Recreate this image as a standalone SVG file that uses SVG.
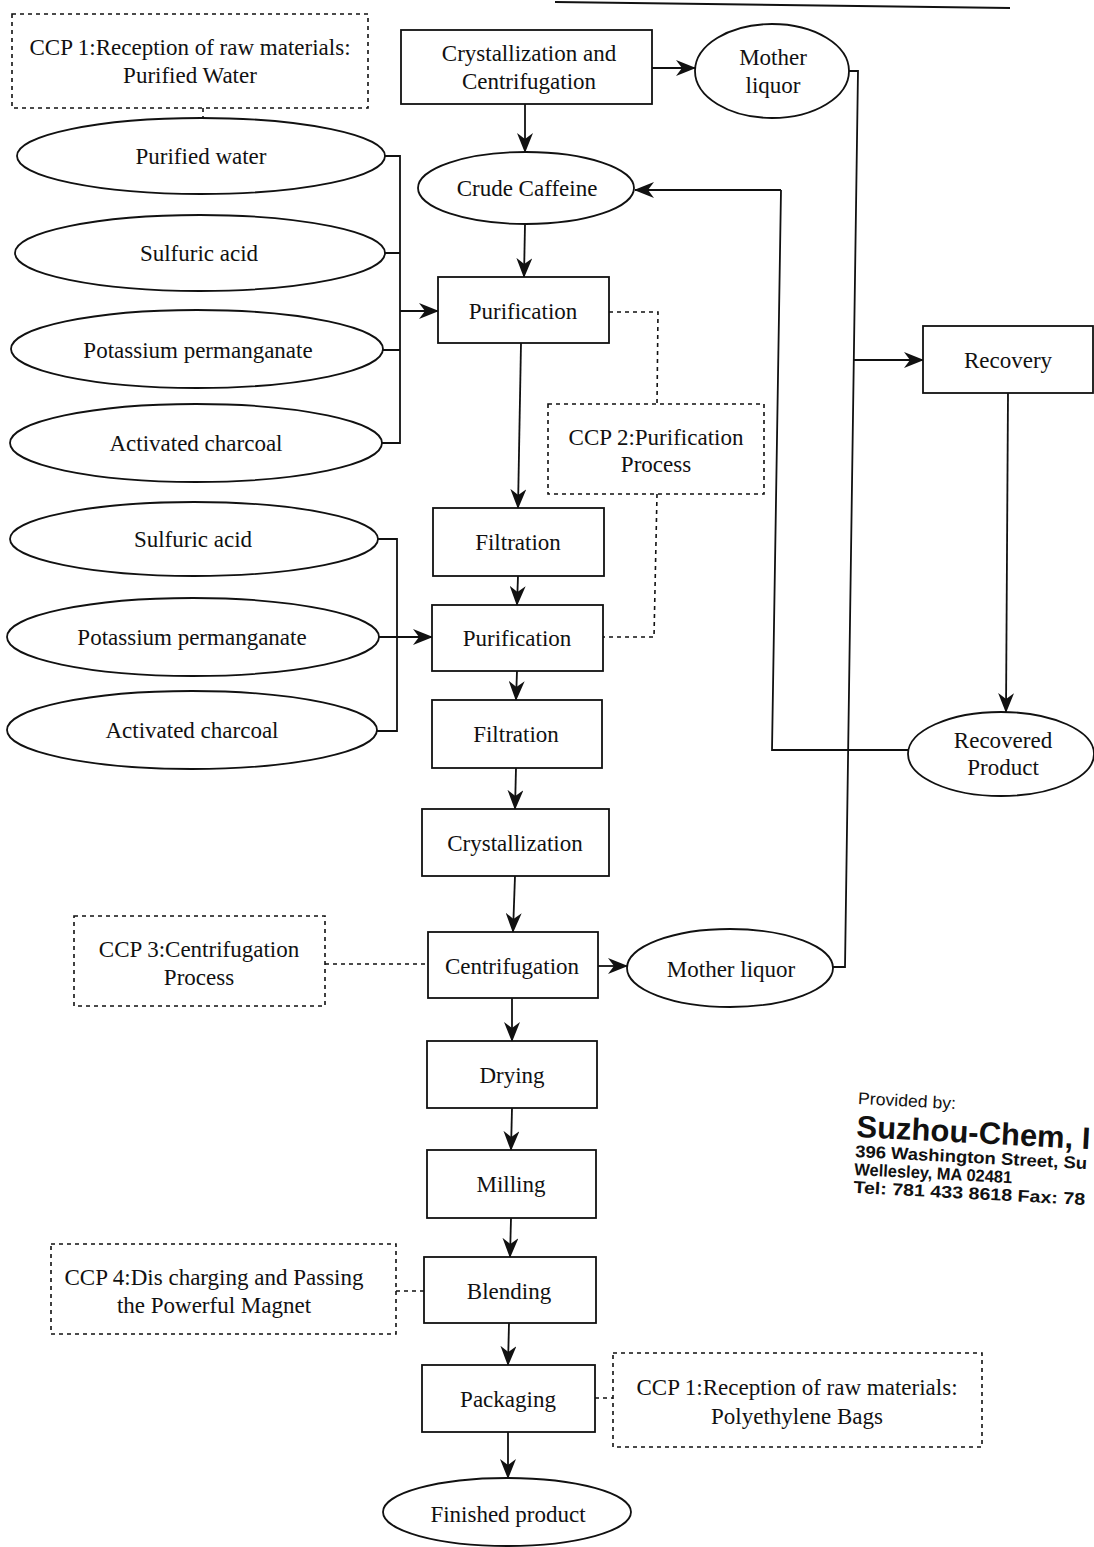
<svg xmlns="http://www.w3.org/2000/svg" width="1094" height="1547" viewBox="0 0 1094 1547">
<style>
  .bg{fill:#fff}
  .box{fill:#fff;stroke:#111;stroke-width:1.8}
  .ccp{fill:none;stroke:#111;stroke-width:1.6;stroke-dasharray:4 4}
  .t{font-family:"Liberation Serif","Times New Roman",serif;font-size:23px;fill:#111;text-anchor:middle}
  .ln{fill:none;stroke:#111;stroke-width:1.8}
  .arr{fill:none;stroke:#111;stroke-width:1.8;marker-end:url(#ah)}
  .dash{fill:none;stroke:#111;stroke-width:1.6;stroke-dasharray:4 4}
  .sans{font-family:"Liberation Sans",Arial,sans-serif;fill:#111}
</style>
<defs>
  <marker id="ah" viewBox="0 0 20 16" refX="19" refY="8" markerWidth="20" markerHeight="16" markerUnits="userSpaceOnUse" orient="auto">
    <path d="M0,0 L20,8 L0,16 L6,8 Z" fill="#111"/>
  </marker>
</defs>
<rect class="bg" x="0" y="0" width="1094" height="1547"/>
<path class="ln" d="M555,2 L1010,8" stroke-width="2.2"/>

<g id="connectors">
  <path class="dash" d="M203,108 L203,118"/>
  <path class="ln" d="M385,156 L400,156 L400,443 L382,443 M385,253 L400,253 M383,350 L400,350"/>
  <path class="arr" d="M400,311 L438,311"/>
  <path class="ln" d="M378,539 L397,539 L397,731 L377,731"/>
  <path class="arr" d="M378,637 L432,637"/>
  <path class="arr" d="M525,104 L525,152"/>
  <path class="arr" d="M652,68 L695,68"/>
  <path class="arr" d="M525,224 L524,277"/>
  <path class="arr" d="M521,343 L518,508"/>
  <path class="arr" d="M518,576 L517,605"/>
  <path class="arr" d="M517,671 L516,700"/>
  <path class="arr" d="M516,768 L515,809"/>
  <path class="arr" d="M515,876 L513,932"/>
  <path class="arr" d="M598,966 L627,966"/>
  <path class="arr" d="M512,998 L512,1041"/>
  <path class="arr" d="M512,1108 L511,1150"/>
  <path class="arr" d="M511,1218 L510,1257"/>
  <path class="arr" d="M509,1323 L508,1365"/>
  <path class="arr" d="M508,1432 L508,1478"/>
  <path class="ln" d="M849,71 L858,71 L845,967 L833,967"/>
  <path class="arr" d="M854,360 L923,360"/>
  <path class="arr" d="M1008,393 L1006,712"/>
  <path class="ln" d="M908,750 L772,750 L781,190"/>
  <path class="arr" d="M781,190 L635,190"/>
  <path class="dash" d="M609,312 L658,312 L657,404"/>
  <path class="dash" d="M657,494 L654,637 L603,637"/>
  <path class="dash" d="M325,964 L428,964"/>
  <path class="dash" d="M396,1291 L424,1291"/>
  <path class="dash" d="M595,1398 L613,1398"/>
</g>

<g id="ccp1-water">
  <rect class="ccp" x="12" y="14" width="356" height="94"/>
  <text class="t" x="190" y="55">CCP 1:Reception of raw materials:</text>
  <text class="t" x="190" y="83">Purified Water</text>
</g>
<g id="cryst-centri">
  <rect class="box" x="401" y="30" width="251" height="74"/>
  <text class="t" x="529" y="61">Crystallization and</text>
  <text class="t" x="529" y="89">Centrifugation</text>
</g>
<g id="mother-liquor-1">
  <ellipse class="box" cx="772" cy="71" rx="77" ry="47"/>
  <text class="t" x="773" y="65">Mother</text>
  <text class="t" x="773" y="93">liquor</text>
</g>
<g id="purified-water">
  <ellipse class="box" cx="201" cy="156" rx="184" ry="38"/>
  <text class="t" x="201" y="164">Purified water</text>
</g>
<g id="sulfuric-1">
  <ellipse class="box" cx="200" cy="253" rx="185" ry="38"/>
  <text class="t" x="199" y="261">Sulfuric acid</text>
</g>
<g id="kmno4-1">
  <ellipse class="box" cx="197" cy="349" rx="186" ry="39"/>
  <text class="t" x="198" y="358">Potassium permanganate</text>
</g>
<g id="charcoal-1">
  <ellipse class="box" cx="196" cy="443" rx="186" ry="39"/>
  <text class="t" x="196" y="451">Activated charcoal</text>
</g>
<g id="crude-caffeine">
  <ellipse class="box" cx="526" cy="188" rx="108" ry="36"/>
  <text class="t" x="527" y="196">Crude Caffeine</text>
</g>
<g id="purification-1">
  <rect class="box" x="438" y="277" width="171" height="66"/>
  <text class="t" x="523" y="319">Purification</text>
</g>
<g id="ccp2">
  <rect class="ccp" x="548" y="404" width="216" height="90"/>
  <text class="t" x="656" y="445">CCP 2:Purification</text>
  <text class="t" x="656" y="472">Process</text>
</g>
<g id="recovery">
  <rect class="box" x="923" y="326" width="170" height="67"/>
  <text class="t" x="1008" y="368">Recovery</text>
</g>
<g id="sulfuric-2">
  <ellipse class="box" cx="194" cy="539" rx="184" ry="37"/>
  <text class="t" x="193" y="547">Sulfuric acid</text>
</g>
<g id="kmno4-2">
  <ellipse class="box" cx="193" cy="637" rx="186" ry="39"/>
  <text class="t" x="192" y="645">Potassium permanganate</text>
</g>
<g id="charcoal-2">
  <ellipse class="box" cx="192" cy="730" rx="185" ry="39"/>
  <text class="t" x="192" y="738">Activated charcoal</text>
</g>
<g id="filtration-1">
  <rect class="box" x="433" y="508" width="171" height="68"/>
  <text class="t" x="518" y="550">Filtration</text>
</g>
<g id="purification-2">
  <rect class="box" x="432" y="605" width="171" height="66"/>
  <text class="t" x="517" y="646">Purification</text>
</g>
<g id="filtration-2">
  <rect class="box" x="432" y="700" width="170" height="68"/>
  <text class="t" x="516" y="742">Filtration</text>
</g>
<g id="recovered-product">
  <ellipse class="box" cx="1001" cy="754" rx="93" ry="42"/>
  <text class="t" x="1003" y="748">Recovered</text>
  <text class="t" x="1003" y="775">Product</text>
</g>
<g id="crystallization">
  <rect class="box" x="422" y="809" width="187" height="67"/>
  <text class="t" x="515" y="851">Crystallization</text>
</g>
<g id="ccp3">
  <rect class="ccp" x="74" y="916" width="251" height="90"/>
  <text class="t" x="199" y="957">CCP 3:Centrifugation</text>
  <text class="t" x="199" y="985">Process</text>
</g>
<g id="centrifugation">
  <rect class="box" x="428" y="932" width="170" height="66"/>
  <text class="t" x="512" y="974">Centrifugation</text>
</g>
<g id="mother-liquor-2">
  <ellipse class="box" cx="730" cy="968" rx="103" ry="39"/>
  <text class="t" x="731" y="977">Mother liquor</text>
</g>
<g id="drying">
  <rect class="box" x="427" y="1041" width="170" height="67"/>
  <text class="t" x="512" y="1083">Drying</text>
</g>
<g id="milling">
  <rect class="box" x="427" y="1150" width="169" height="68"/>
  <text class="t" x="511" y="1192">Milling</text>
</g>
<g id="ccp4">
  <rect class="ccp" x="51" y="1244" width="345" height="90"/>
  <text class="t" x="214" y="1285">CCP 4:Dis charging and Passing</text>
  <text class="t" x="214" y="1313">the Powerful Magnet</text>
</g>
<g id="blending">
  <rect class="box" x="424" y="1257" width="172" height="66"/>
  <text class="t" x="509" y="1299">Blending</text>
</g>
<g id="packaging">
  <rect class="box" x="422" y="1365" width="173" height="67"/>
  <text class="t" x="508" y="1407">Packaging</text>
</g>
<g id="ccp1-bags">
  <rect class="ccp" x="613" y="1353" width="369" height="94"/>
  <text class="t" x="797" y="1395">CCP 1:Reception of raw materials:</text>
  <text class="t" x="797" y="1424">Polyethylene Bags</text>
</g>
<g id="finished-product">
  <ellipse class="box" cx="507" cy="1512" rx="124" ry="34"/>
  <text class="t" x="508" y="1522">Finished product</text>
</g>
<g id="provided-by" transform="rotate(3 858 1100)">
  <text class="sans" x="858" y="1104" font-size="17" textLength="98" lengthAdjust="spacingAndGlyphs">Provided by:</text>
  <text class="sans" x="858" y="1137" font-size="31" font-weight="bold">Suzhou-Chem, I</text>
  <text class="sans" x="858" y="1157" font-size="17" font-weight="bold" textLength="232" lengthAdjust="spacingAndGlyphs">396 Washington Street, Su</text>
  <text class="sans" x="858" y="1175" font-size="17" font-weight="bold" textLength="158" lengthAdjust="spacingAndGlyphs">Wellesley, MA 02481</text>
  <text class="sans" x="858" y="1193" font-size="17" font-weight="bold" textLength="232" lengthAdjust="spacingAndGlyphs">Tel: 781 433 8618  Fax: 78</text>
</g>
</svg>
